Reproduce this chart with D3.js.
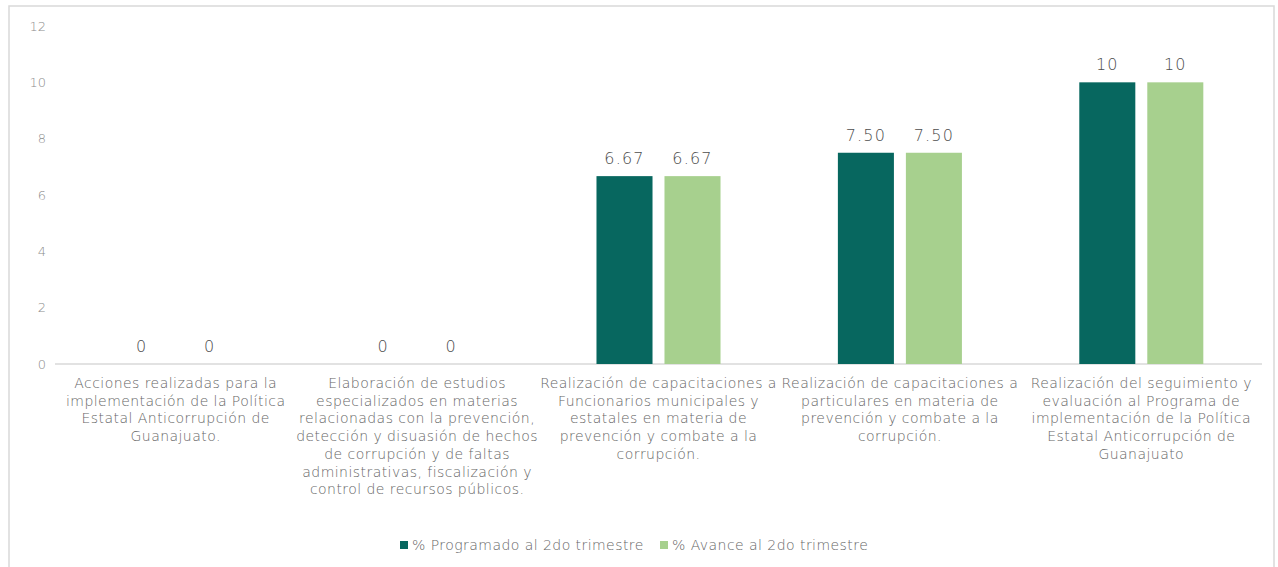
<!DOCTYPE html>
<html lang="es">
<head>
    <meta charset="UTF-8">
    <title>% Programado vs % Avance al 2do trimestre</title>
    <script src="https://d3js.org/d3.v7.min.js"></script>
    <style>
        body { margin: 0; background: #fff; }
        svg text { font-family: "DejaVu Sans", "Noto Sans", sans-serif; font-weight: 200; }
    </style>
</head>
<body>
    <svg class="chart"></svg>
    <script>
        // categorias (cada una ya partida en renglones)
        var categories = [
            ["Acciones realizadas para la", "implementación de la Política", "Estatal Anticorrupción de", "Guanajuato."],
            ["Elaboración de estudios", "especializados en materias", "relacionadas con la prevención,", "detección y disuasión de hechos", "de corrupción y de faltas", "administrativas, fiscalización y", "control de recursos públicos."],
            ["Realización de capacitaciones a", "Funcionarios municipales y", "estatales en materia de", "prevención y combate a la", "corrupción."],
            ["Realización de capacitaciones a", "particulares en materia de", "prevención y combate a la", "corrupción."],
            ["Realización del seguimiento y", "evaluación al Programa de", "implementación de la Política", "Estatal Anticorrupción de", "Guanajuato"]
        ];
        var seriesNames = ["% Programado al 2do trimestre", "% Avance al 2do trimestre"];
        var programado = [0, 0, 6.67, 7.5, 10];
        var avance = [0, 0, 6.67, 7.5, 10];
        var valueLabels = [["0", "0", "6.67", "7.50", "10"], ["0", "0", "6.67", "7.50", "10"]];
        var yTicks = [0, 2, 4, 6, 8, 10, 12];
        var colors = ["#07675f", "#a7d08e"];

        var width = 1278, height = 567;
        var svg = d3.select('.chart').attr('width', width).attr('height', height);

        // marco del grafico
        svg.append('rect')
           .attr('x', 9).attr('y', 6)
           .attr('width', 1265).attr('height', 600)
           .attr('fill', '#fff')
           .attr('stroke', '#d9d9d9').attr('stroke-width', 1.5);

        var plot = {left: 55, right: 1262, top: 26, bottom: 364};

        var x0 = d3.scaleBand()
                   .domain(d3.range(categories.length))
                   .range([plot.left, plot.right]);
        var x1 = d3.scaleBand()
                   .domain([0, 1])
                   .range([0, x0.bandwidth()])
                   .paddingInner(0.176)
                   .paddingOuter(0.863);
        var y = d3.scaleLinear().domain([0, 12]).range([plot.bottom, plot.top]);

        // eje y (solo etiquetas)
        var yAxis = svg.append('g')
           .attr('transform', 'translate(' + (plot.left - 9) + ',0)')
           .call(d3.axisLeft(y).tickValues(yTicks).tickSize(0).tickPadding(0));
        yAxis.select('.domain').remove();
        yAxis.selectAll('text')
             .attr('fill', '#8c8c8c')
             .style('font-size', '13px');

        // linea base
        svg.append('line')
           .attr('x1', plot.left).attr('x2', plot.right)
           .attr('y1', y(0)).attr('y2', y(0))
           .attr('stroke', '#d9d9d9').attr('stroke-width', 1.5);

        var series = [programado, avance];
        series.forEach(function(vals, s) {
            var g = svg.append('g');
            g.selectAll('rect')
             .data(vals)
             .join('rect')
             .attr('x', (d, i) => x0(i) + x1(s))
             .attr('y', d => y(d))
             .attr('width', x1.bandwidth())
             .attr('height', d => y(0) - y(d))
             .attr('fill', colors[s]);
            g.selectAll('text')
             .data(vals)
             .join('text')
             .attr('x', (d, i) => x0(i) + x1(s) + x1.bandwidth() / 2)
             .attr('y', d => y(d) - 12)
             .attr('text-anchor', 'middle')
             .attr('fill', '#4d4d4d')
             .style('font-size', '16px')
             .style('letter-spacing', '1.2px')
             .text((d, i) => valueLabels[s][i]);
        });

        // etiquetas de categoria
        var catG = svg.append('g');
        categories.forEach(function(lines, i) {
            var t = catG.append('text')
                        .attr('text-anchor', 'middle')
                        .attr('fill', '#666')
                        .style('font-size', '14px')
                        .style('letter-spacing', '0.45px');
            lines.forEach(function(line, k) {
                t.append('tspan')
                 .attr('x', x0(i) + x0.bandwidth() / 2)
                 .attr('y', 388 + k * 17.7)
                 .text(line);
            });
        });

        // leyenda
        var legendX = [400, 660];
        seriesNames.forEach(function(name, s) {
            svg.append('rect')
               .attr('x', legendX[s]).attr('y', 541)
               .attr('width', 8).attr('height', 8)
               .attr('fill', colors[s]);
            svg.append('text')
               .attr('x', legendX[s] + 12).attr('y', 550)
               .attr('fill', '#666')
               .style('font-size', '14px')
               .style('letter-spacing', '0.45px')
               .text(name);
        });
    </script>
</body>
</html>
